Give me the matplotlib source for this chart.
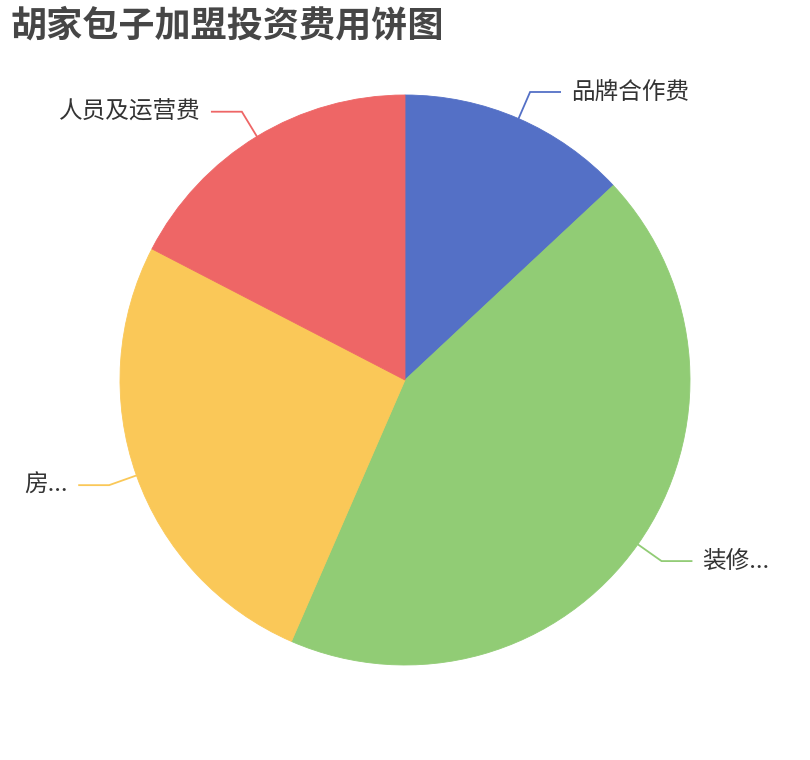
import matplotlib
matplotlib.use("Agg")
import matplotlib.pyplot as plt
import numpy as np

plt.rcParams['font.family'] = ['Noto Sans CJK SC', 'DejaVu Sans']

title = "胡家包子加盟投资费用饼图"
labels = ["品牌合作费", "装修...", "房...", "人员及运营费"]
values = [3, 10, 6, 4]
colors = ["#5470c6", "#91cc75", "#fac858", "#ee6666"]

W, H = 810, 760
fig = plt.figure(figsize=(W / 100, H / 100), dpi=100)
ax = fig.add_axes([0, 0, 1, 1])

cx, cy, r = 405, 380, 285
wedges, _ = ax.pie(values, colors=colors, startangle=90, counterclock=False,
                   center=(cx, cy), radius=r,
                   wedgeprops=dict(linewidth=0.6, edgecolor="none"))
for w, c in zip(wedges, colors):
    w.set_edgecolor(c)

# pie() resets the limits, so set them afterwards
ax.set_xlim(0, W)
ax.set_ylim(0, H)
ax.set_aspect("equal")
ax.axis("off")

# label lines (two segments like echarts)
len1, len2, gap = 29, 30, 11
for w, lab, c in zip(wedges, labels, colors):
    mid = np.deg2rad((w.theta1 + w.theta2) / 2)
    ux, uy = np.cos(mid), np.sin(mid)
    p0 = (cx + r * ux, cy + r * uy)
    p1 = (cx + (r + len1) * ux, cy + (r + len1) * uy)
    side = 1 if ux >= 0 else -1
    p2 = (p1[0] + side * len2, p1[1])
    ax.plot([p0[0], p1[0], p2[0]], [p0[1], p1[1], p2[1]], color=c, lw=1.3,
            solid_joinstyle="miter")
    ax.text(p2[0] + side * gap, p2[1], lab, fontsize=17, color="#333333",
            ha="left" if side > 0 else "right", va="center")

ax.text(10, H - 26, title, fontsize=26, fontweight="bold", color="#464646",
        ha="left", va="center")

fig.savefig("out.png", dpi=100, facecolor="white")
